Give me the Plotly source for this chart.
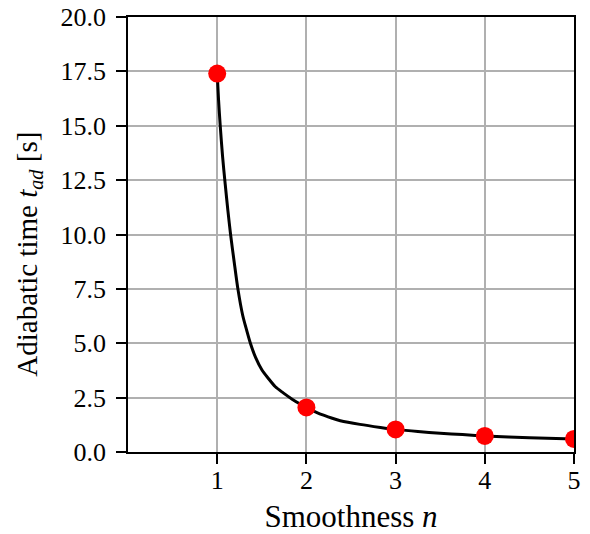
import plotly.graph_objects as go

# Discrete smoothness values and measured adiabatic times
n_points = [1, 2, 3, 4, 5]
t_points = [17.4, 2.05, 1.04, 0.74, 0.6]

# Continuous curve
n_curve = [1.0, 1.015, 1.034, 1.06, 1.09, 1.12, 1.15, 1.19, 1.232, 1.285, 1.33, 1.372,
           1.43, 1.502, 1.57, 1.652, 1.74, 1.84, 1.92, 2.0, 2.1, 2.2, 2.29, 2.38, 2.6,
           2.83, 3.0, 3.25, 3.5, 3.75, 4.0, 4.5, 5.0]
t_curve = [17.4, 16.2, 15.0, 13.6, 12.3, 11.1, 10.0, 8.75, 7.5, 6.3, 5.6, 5.0,
           4.35, 3.77, 3.4, 3.0, 2.72, 2.43, 2.23, 2.05, 1.85, 1.68, 1.55, 1.44, 1.27,
           1.13, 1.04, 0.94, 0.86, 0.8, 0.74, 0.66, 0.6]

y_ticks = [0, 2.5, 5, 7.5, 10, 12.5, 15, 17.5, 20]
x_ticks = [1, 2, 3, 4, 5]

FONT = "Liberation Serif"

fig = go.Figure()
fig.add_trace(go.Scatter(x=n_curve, y=t_curve, mode="lines",
                         line=dict(color="black", width=3, shape="spline", smoothing=0.8),
                         hoverinfo="skip"))
fig.add_trace(go.Scatter(x=n_points, y=t_points, mode="markers",
                         marker=dict(color="red", size=18, line=dict(width=0)),
                         cliponaxis=True))

axis_common = dict(
    showline=True, linecolor="black", linewidth=1.6, mirror=True,
    showgrid=True, gridcolor="#b0b0b0", gridwidth=1.6,
    ticks="outside", ticklen=10, tickwidth=1.6, tickcolor="black",
    zeroline=False, automargin=False,
    tickfont=dict(family=FONT, size=26, color="black"),
)

fig.update_layout(
    width=590, height=534,
    margin=dict(l=128, r=16, t=17, b=82),
    paper_bgcolor="white", plot_bgcolor="white",
    showlegend=False,
    font=dict(family=FONT, size=26, color="black"),
    xaxis=dict(range=[0, 5], tickvals=x_ticks, ticktext=[str(v) for v in x_ticks],
               ticklabelstandoff=-6,
               title=dict(text="Smoothness <i>n</i>", font=dict(family=FONT, size=31), standoff=14),
               **axis_common),
    yaxis=dict(range=[0, 20], tickvals=y_ticks, ticktext=[f"{v:.1f}" for v in y_ticks],
               ticklabelstandoff=5,
               **axis_common),
    annotations=[dict(
        text="Adiabatic time <i>t</i><sub><i>ad</i></sub> [s]",
        xref="paper", yref="paper", x=-0.222, y=0.456,
        xanchor="center", yanchor="middle", textangle=-90, showarrow=False,
        font=dict(family=FONT, size=29, color="black"),
    )],
)

fig.write_html("out.html")
